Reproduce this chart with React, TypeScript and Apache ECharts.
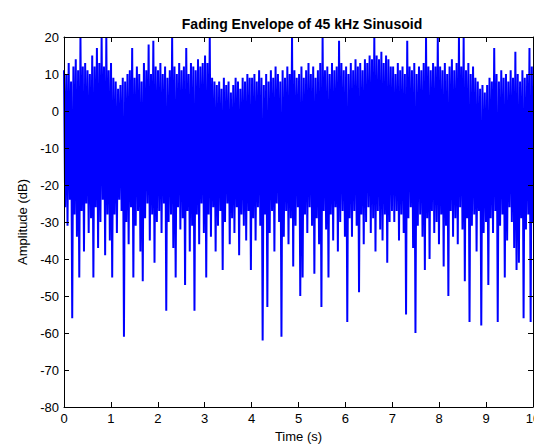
import React, { useEffect, useRef } from "react";
import * as echarts from "echarts";

const TITLE = "Fading Envelope of 45 kHz Sinusoid";
const X_NAME = "Time (s)";
const Y_NAME = "Amplitude (dB)";
const X_MIN = 0;
const X_MAX = 10;
const Y_MIN = -80;
const Y_MAX = 20;

// Upper envelope (dB), one value per 0.05 s
const upper: number[] = [
  11, 10, 13, 8, 12, 14, 11, 20, 12, 13, 11, 10, 15, 12, 17, 13, 20, 12, 20, 11,
  13, 9, 8, 6, 7, 9, 8, 10, 11, 17, 9, 12, 10, 8, 13, 11, 18, 10, 19, 12,
  11, 13, 10, 12, 9, 11, 20, 12, 10, 13, 11, 12, 17, 10, 13, 12, 11, 14, 12, 13,
  15, 13, 20, 9, 8, 7, 8, 6, 9, 7, 8, 5, 7, 9, 8, 6, 9, 8, 10, 9,
  9, 10, 8, 11, 9, 7, 10, 8, 11, 9, 12, 10, 8, 11, 9, 12, 10, 20, 11, 9,
  10, 12, 9, 11, 13, 10, 12, 9, 11, 13, 20, 11, 12, 10, 13, 11, 12, 19, 13, 11,
  12, 10, 13, 11, 14, 12, 13, 11, 14, 13, 15, 14, 20, 15, 14, 16, 13, 15, 14, 12,
  12, 10, 13, 11, 12, 10, 19, 12, 11, 13, 10, 12, 11, 13, 20, 12, 11, 13, 12, 20,
  12, 11, 13, 10, 12, 14, 11, 13, 20, 12, 20, 11, 13, 10, 12, 9, 8, 6, 7, 5,
  7, 9, 8, 17, 10, 8, 11, 9, 10, 8, 11, 9, 16, 10, 8, 11, 9, 10, 17, 12,
];

// Lower envelope (dB), one value per 0.05 s
const lower: number[] = [
  -26, -31, -24, -56, -28, -34, -45, -27, -38, -25, -33, -29, -45, -26, -37, -30, -24, -39, -28, -35,
  -45, -28, -33, -24, -27, -61, -30, -36, -26, -45, -31, -27, -38, -46, -29, -25, -35, -28, -41, -30,
  -27, -33, -25, -54, -30, -28, -37, -45, -26, -32, -29, -47, -27, -38, -31, -54, -28, -36, -25, -33,
  -45, -28, -34, -26, -38, -31, -27, -43, -30, -25, -36, -29, -33, -26, -39, -28, -31, -35, -27, -43,
  -29, -35, -26, -31, -62, -28, -53, -33, -27, -38, -25, -30, -61, -34, -27, -36, -29, -42, -31, -26,
  -50, -45, -28, -33, -26, -31, -44, -29, -36, -53, -27, -32, -45, -28, -35, -26, -38, -30, -27, -34,
  -57, -29, -34, -27, -31, -49, -28, -36, -30, -26, -33, -29, -38, -27, -32, -35, -28, -41, -30, -27,
  -30, -27, -35, -28, -33, -55, -29, -26, -37, -60, -31, -28, -34, -43, -29, -40, -27, -33, -30, -36,
  -28, -42, -31, -50, -27, -34, -29, -36, -26, -32, -46, -29, -57, -31, -28, -38, -27, -58, -33, -30,
  -47, -29, -33, -27, -57, -31, -28, -45, -35, -26, -30, -37, -43, -41, -29, -56, -32, -28, -57, -30,
];

const FONT = "'Liberation Sans', Arial, Helvetica, sans-serif";

export default function App() {
  const ref = useRef<HTMLDivElement>(null);
  useEffect(() => {
    if (!ref.current) return;
    const chart = echarts.init(ref.current, undefined, { renderer: "svg" });
    const flat: number[] = [];
    for (let i = 0; i < upper.length; i++) {
      flat.push(upper[i]);
      flat.push(lower[i]);
    }
    const n = flat.length;
    const data = flat.map((v, k) => [X_MIN + (k * (X_MAX - X_MIN)) / (n - 1), v]);

    const axisLine = { show: true, onZero: false, lineStyle: { color: "#000", width: 1 } };
    const tick = { show: true, inside: true, length: 5, lineStyle: { color: "#000" } };
    const label = { color: "#000", fontSize: 13, fontFamily: FONT };

    chart.setOption({
      animation: false,
      backgroundColor: "#fff",
      title: {
        text: TITLE,
        left: 297,
        top: 12,
        textAlign: "center",
        textStyle: { fontSize: 14, fontWeight: "bold", color: "#000", fontFamily: FONT },
      },
      grid: { left: 64, right: 1, top: 37, bottom: 38, containLabel: false, outerBoundsMode: "none" },
      xAxis: [
        {
          type: "value",
          min: X_MIN,
          max: X_MAX,
          interval: 1,
          position: "bottom",
          name: X_NAME,
          nameLocation: "middle",
          nameGap: 22,
          nameTextStyle: { color: "#000", fontSize: 13, fontFamily: FONT },
          axisLine,
          axisTick: tick,
          axisLabel: { ...label, margin: 5 },
          splitLine: { show: false },
          z: 10,
        },
        {
          type: "value",
          min: X_MIN,
          max: X_MAX,
          interval: 1,
          position: "top",
          axisLine,
          axisTick: tick,
          axisLabel: { show: false },
          splitLine: { show: false },
          z: 10,
        },
      ],
      yAxis: [
        {
          type: "value",
          min: Y_MIN,
          max: Y_MAX,
          interval: 10,
          position: "left",
          name: Y_NAME,
          nameLocation: "middle",
          nameGap: 34,
          nameTextStyle: { color: "#000", fontSize: 13, fontFamily: FONT },
          axisLine,
          axisTick: tick,
          axisLabel: { ...label, margin: 5 },
          splitLine: { show: false },
          z: 10,
        },
        {
          type: "value",
          min: Y_MIN,
          max: Y_MAX,
          interval: 10,
          position: "right",
          axisLine,
          axisTick: tick,
          axisLabel: { show: false },
          splitLine: { show: false },
          z: 10,
        },
      ],
      series: [
        {
          type: "line",
          data,
          xAxisIndex: 0,
          yAxisIndex: 0,
          showSymbol: false,
          symbol: "none",
          clip: true,
          z: 2,
          lineStyle: { color: "#0000ff", width: 2, join: "bevel" },
          itemStyle: { color: "#0000ff" },
        },
      ],
    });
    return () => chart.dispose();
  }, []);
  return (
    <div
      ref={ref}
      style={{ position: "fixed", left: 0, top: 0, width: 534, height: 445, background: "#fff" }}
    />
  );
}
